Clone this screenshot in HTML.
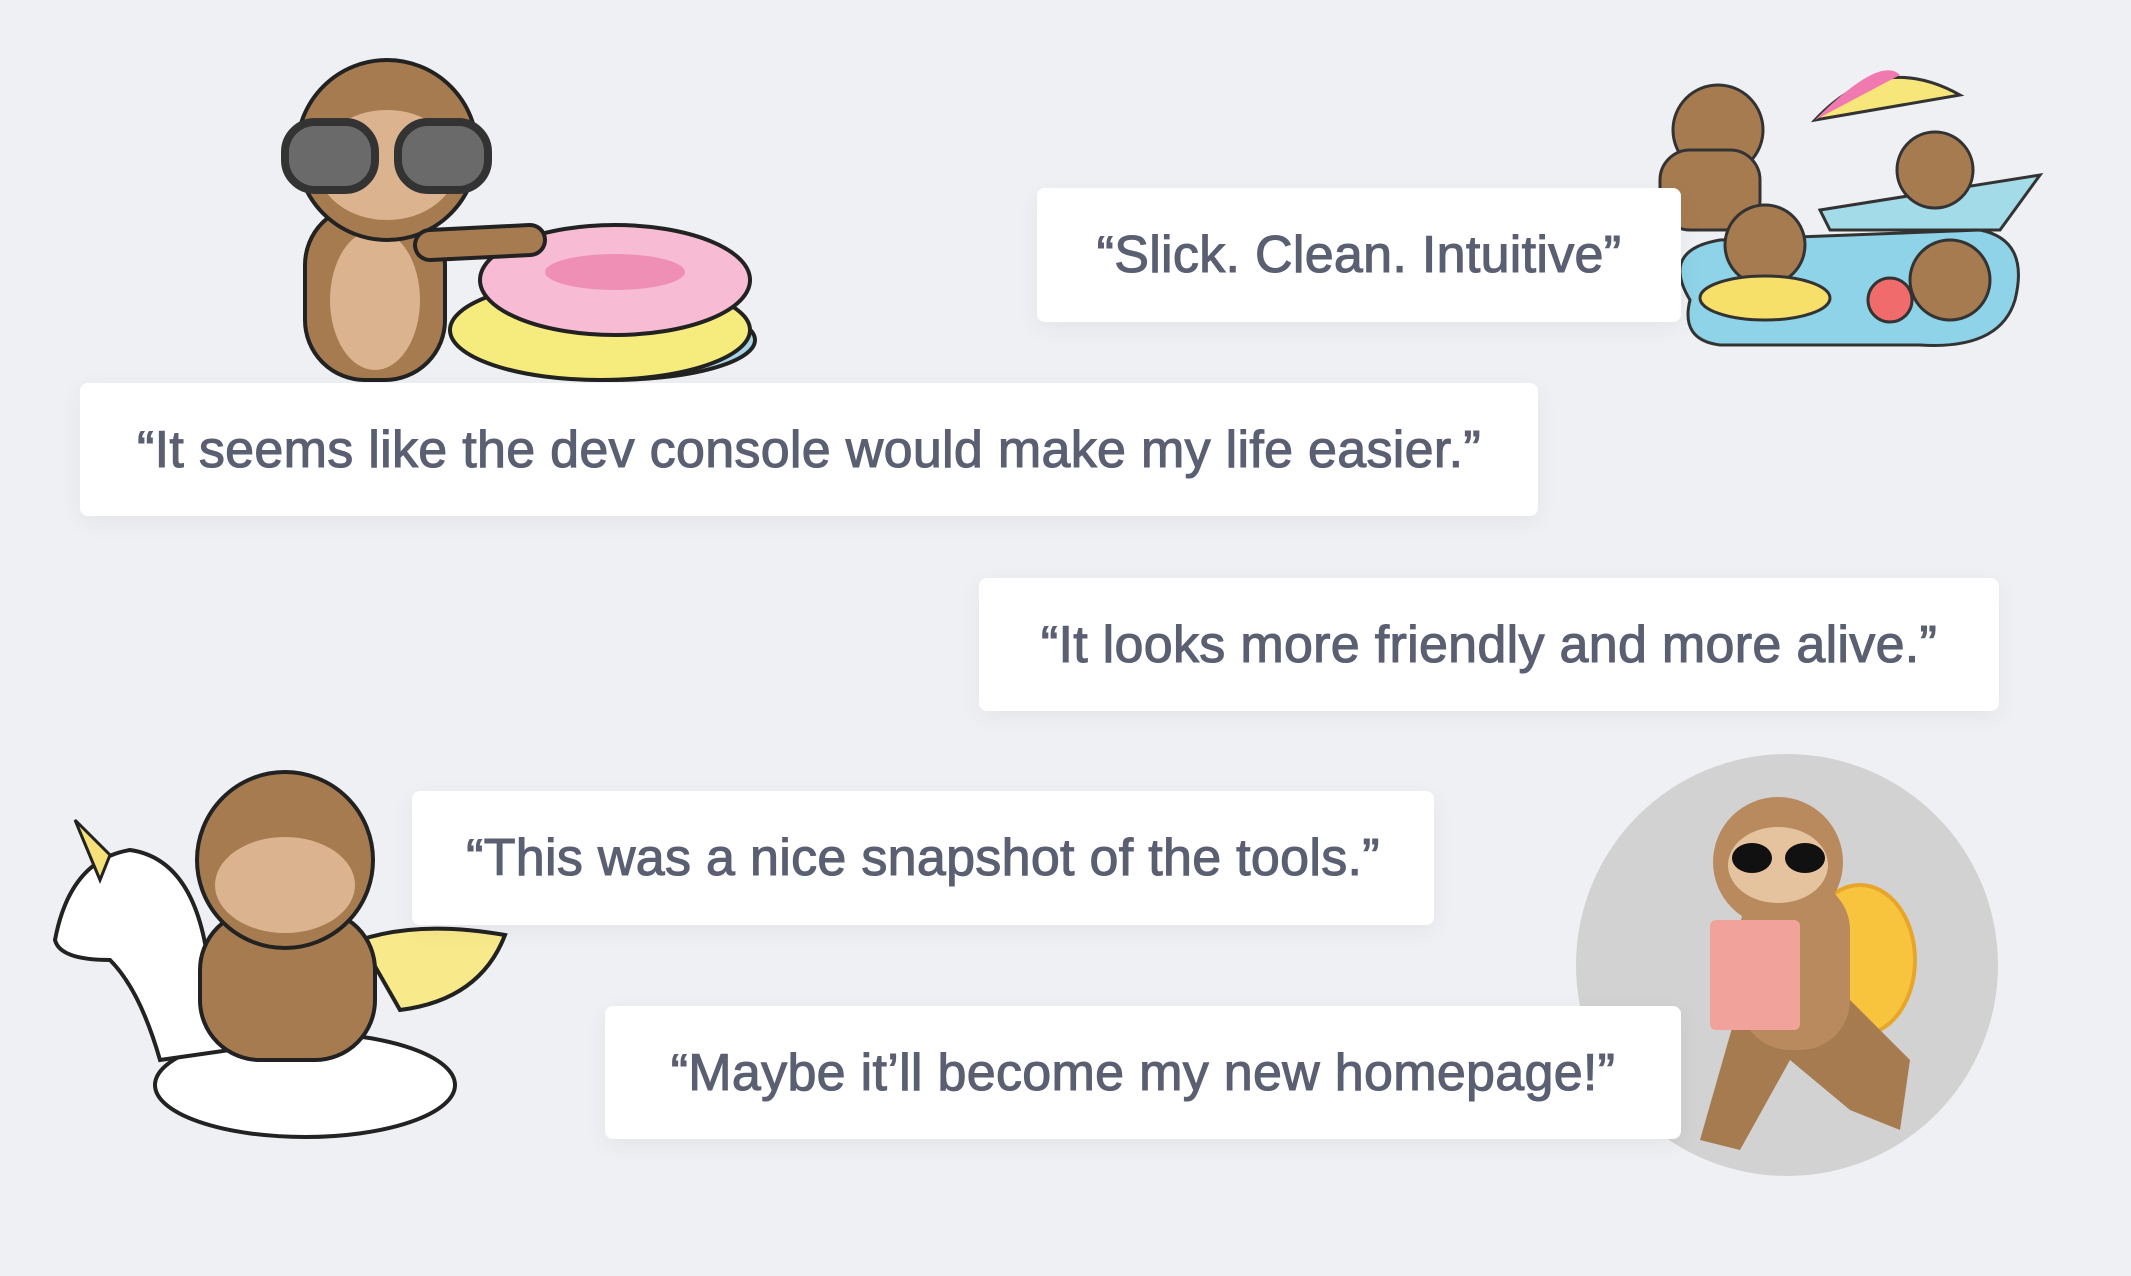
<!DOCTYPE html>
<html><head><meta charset="utf-8"><style>
html,body{margin:0;padding:0}
body{width:2131px;height:1276px;background:#eff0f4;position:relative;overflow:hidden;font-family:"Liberation Sans",sans-serif}
.b{position:absolute;background:#fff;border-radius:8px;box-shadow:0 6px 24px rgba(0,0,0,0.05);display:flex;align-items:center;justify-content:center;color:#5b5f72;font-size:52px;letter-spacing:0.3px;white-space:nowrap;-webkit-text-stroke:1.1px #5b5f72}
svg{position:absolute;left:0;top:0}
</style></head><body>
<svg width="2131" height="1276" viewBox="0 0 2131 1276">
 <ellipse cx="610" cy="340" rx="145" ry="40" fill="#a8d5e5" stroke="#222" stroke-width="4"/>
 <ellipse cx="600" cy="330" rx="150" ry="50" fill="#f6ec7d" stroke="#222" stroke-width="4"/>
 <ellipse cx="615" cy="280" rx="135" ry="55" fill="#f7bcd3" stroke="#222" stroke-width="4"/>
 <ellipse cx="615" cy="272" rx="70" ry="18" fill="#ef8fb5"/>
 <rect x="305" y="205" width="140" height="175" rx="60" fill="#a77b50" stroke="#222" stroke-width="4"/>
 <ellipse cx="375" cy="300" rx="45" ry="70" fill="#dbb38e"/>
 <circle cx="387" cy="150" r="90" fill="#a77b50" stroke="#222" stroke-width="4"/>
 <ellipse cx="387" cy="165" rx="70" ry="55" fill="#dbb38e"/>
 <rect x="285" y="122" width="90" height="68" rx="30" fill="#6a6a6a" stroke="#333" stroke-width="8"/>
 <rect x="398" y="122" width="90" height="68" rx="30" fill="#6a6a6a" stroke="#333" stroke-width="8"/>
 <path d="M430 245 L530 240" stroke="#222" stroke-width="34" stroke-linecap="round"/>
 <path d="M430 245 L530 240" stroke="#a77b50" stroke-width="26" stroke-linecap="round"/>
 <path d="M1690 300 Q1660 250 1720 240 L1980 230 Q2030 240 2015 300 Q2000 350 1920 345 L1720 345 Q1680 340 1690 300Z" fill="#8ed3e8" stroke="#333" stroke-width="3"/>
 <path d="M1820 210 L2040 175 L2000 230 L1830 230Z" fill="#a4dbe9" stroke="#333" stroke-width="3"/>
 <path d="M1815 120 Q1880 50 1960 95 Z" fill="#f7e67a" stroke="#333" stroke-width="3"/>
 <path d="M1815 120 Q1880 55 1900 75 Z" fill="#f07ab0"/>
 <circle cx="1718" cy="130" r="45" fill="#a77b50" stroke="#333" stroke-width="3"/>
 <rect x="1660" y="150" width="100" height="80" rx="30" fill="#a77b50" stroke="#333" stroke-width="3"/>
 <circle cx="1935" cy="170" r="38" fill="#a77b50" stroke="#333" stroke-width="3"/>
 <circle cx="1765" cy="245" r="40" fill="#a77b50" stroke="#333" stroke-width="3"/>
 <ellipse cx="1765" cy="298" rx="65" ry="22" fill="#f6e06a" stroke="#333" stroke-width="3"/>
 <circle cx="1950" cy="280" r="40" fill="#a77b50" stroke="#333" stroke-width="3"/>
 <circle cx="1890" cy="300" r="22" fill="#f06b6b" stroke="#333" stroke-width="3"/>
 <ellipse cx="305" cy="1085" rx="150" ry="52" fill="#fff" stroke="#222" stroke-width="4"/>
 <path d="M55 940 Q70 860 130 850 Q200 860 210 980 L230 1050 L160 1060 Q140 990 110 960 Q60 960 55 940Z" fill="#fff" stroke="#222" stroke-width="4"/>
 <path d="M75 820 L100 880 L110 855Z" fill="#f6e07a" stroke="#222" stroke-width="3"/>
 <path d="M360 940 Q420 920 505 935 Q480 1000 400 1010Z" fill="#f8e98a" stroke="#222" stroke-width="4"/>
 <rect x="200" y="910" width="175" height="150" rx="60" fill="#a77b50" stroke="#222" stroke-width="4"/>
 <circle cx="285" cy="860" r="88" fill="#a77b50" stroke="#222" stroke-width="4"/>
 <ellipse cx="285" cy="885" rx="70" ry="48" fill="#dbb38e"/>
 <circle cx="1787" cy="965" r="211" fill="#d2d2d2"/>
 <ellipse cx="1860" cy="960" rx="55" ry="75" fill="#f8c43e" stroke="#e7a62a" stroke-width="4"/>
 <path d="M1740 1000 L1700 1140 L1740 1150 L1790 1060 L1850 1110 L1900 1130 L1910 1060 L1850 1000Z" fill="#a77b50"/>
 <rect x="1740" y="880" width="110" height="170" rx="50" fill="#b88a5e"/>
 <circle cx="1778" cy="862" r="65" fill="#b88a5e"/>
 <ellipse cx="1778" cy="865" rx="50" ry="38" fill="#e5c39e"/>
 <ellipse cx="1752" cy="858" rx="20" ry="15" fill="#111"/><ellipse cx="1805" cy="858" rx="20" ry="15" fill="#111"/>
 <rect x="1710" y="920" width="90" height="110" rx="6" fill="#f1a39b"/>
</svg>
<div class="b" style="left:1037px;top:188px;width:644px;height:134px">“Slick. Clean. Intuitive”</div>
<div class="b" style="left:80px;top:383px;width:1458px;height:133px">“It seems like the dev console would make my life easier.”</div>
<div class="b" style="left:979px;top:578px;width:1020px;height:133px">“It looks more friendly and more alive.”</div>
<div class="b" style="left:412px;top:791px;width:1022px;height:134px">“This was a nice snapshot of the tools.”</div>
<div class="b" style="left:605px;top:1006px;width:1076px;height:133px">“Maybe it’ll become my new homepage!”</div>
</body></html>
